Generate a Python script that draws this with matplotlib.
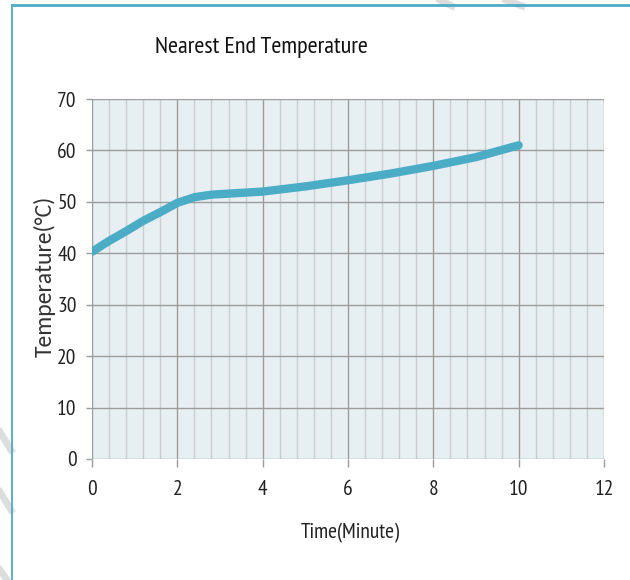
import numpy as np
import matplotlib
matplotlib.use('Agg')
import matplotlib.pyplot as plt
from matplotlib.lines import Line2D

# Данные
time_min = [0, 0.4, 0.8, 1.2, 1.6, 2, 2.4, 2.8, 3.2, 3.6, 4, 5, 6, 7, 8, 9, 10]
temp_c = [40.3, 42.4, 44.3, 46.3, 48, 49.8, 50.9, 51.4, 51.6, 51.8, 52,
          53, 54.2, 55.5, 57, 58.7, 61]

x_ticks = [0, 2, 4, 6, 8, 10, 12]
y_ticks = [0, 10, 20, 30, 40, 50, 60, 70]

title = 'Nearest End Temperature'
x_label = 'Time(Minute)'
y_label = 'Temperature(°C)'

narrow = ['PT Sans Narrow', 'Carlito', 'DejaVu Sans']
wide = ['Carlito', 'DejaVu Sans']
line_color = '#4BACC6'
text_color = '#222222'

W, H = 630, 580
fig = plt.figure(figsize=(W / 100, H / 100), dpi=100)
ax = fig.add_axes([92 / W, 1 - 459 / H, 512 / W, 360 / H])
ax.set_facecolor('#E8EFF3')

ax.set_xlim(0, 12)
ax.set_ylim(0, 70)

# Сетка: мелкие вертикальные линии каждые 0.4
for xv in np.arange(0, 12.01, 0.4):
    if abs(xv / 2 - round(xv / 2)) > 1e-6:
        ax.axvline(xv, color='#C9CED1', lw=1.0, zorder=1)
for xv in x_ticks:
    ax.axvline(xv, color='#9C9C9C', lw=1.0, zorder=1)
for yv in y_ticks:
    ax.axhline(yv, color='#9C9C9C', lw=1.0, zorder=1)

ax.plot(time_min, temp_c, color=line_color, lw=6, solid_capstyle='round',
        solid_joinstyle='round', zorder=3)

for s in ax.spines.values():
    s.set_visible(False)

ax.set_xticks(x_ticks)
ax.set_yticks(y_ticks)
ax.tick_params(axis='x', length=6, width=1, color='#9C9C9C', pad=9)
ax.tick_params(axis='y', length=4, width=1, color='#9C9C9C', pad=7)
for lab in ax.get_xticklabels() + ax.get_yticklabels():
    lab.set_family(narrow)
    lab.set_fontsize(15.5)
    lab.set_color(text_color)

fig.text(350 / W, 1 - 533 / H, x_label, family=narrow, fontsize=15.5,
         color=text_color, ha='center', va='center')
fig.text(45 / W, 1 - 276 / H, y_label, family=wide, fontsize=17,
         color='#333333', ha='center', va='center', rotation=90)
fig.text(261 / W, 1 - 47 / H, title, family=narrow, fontsize=17.5,
         color='#111111', ha='center', va='center')

# Рамка вокруг рисунка
fig.add_artist(Line2D([12 / W, 1], [1 - 5 / H, 1 - 5 / H],
                      transform=fig.transFigure, color=line_color, lw=2))
fig.add_artist(Line2D([12 / W, 12 / W], [0, 1 - 5 / H],
                      transform=fig.transFigure, color=line_color, lw=1.3))

# Следы водяного знака
marks = [((0, 432), (11, 450)), ((0, 492), (11, 510)), ((0, 570), (7, 580)),
         ((440, 0), (452, 6)), ((506, 0), (522, 6))]
for (xa, ya), (xb, yb) in marks:
    fig.add_artist(Line2D([xa / W, xb / W], [1 - ya / H, 1 - yb / H],
                          transform=fig.transFigure, color='#DDDDDD', lw=5,
                          zorder=0))

fig.savefig('out.png', dpi=100)
